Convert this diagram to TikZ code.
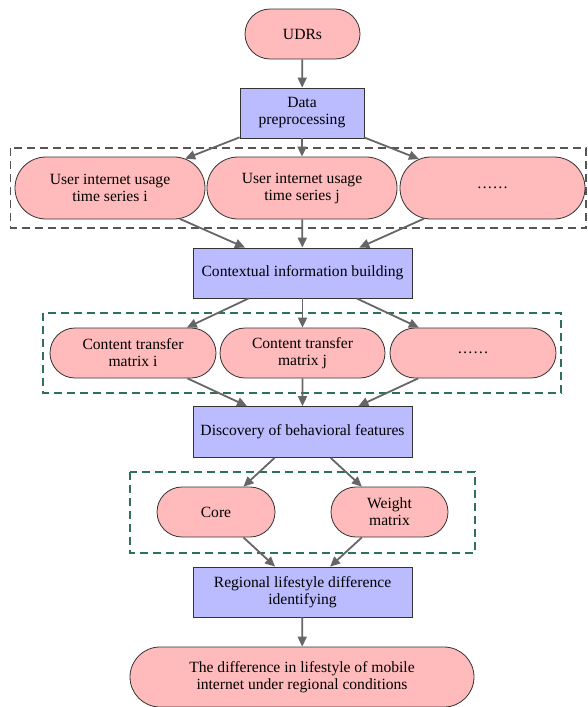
\documentclass[tikz,border=0pt]{standalone}
\usepackage{fontspec}
\setmainfont{Liberation Serif}
\usetikzlibrary{shapes.misc,arrows.meta}
\definecolor{pinkfill}{HTML}{FFBBBB}
\definecolor{bluefill}{HTML}{BBBBFF}
\definecolor{edgegray}{HTML}{666666}
\definecolor{boxgray}{HTML}{555555}
\definecolor{boxgreen}{HTML}{2F6F5F}
\definecolor{bordercol}{HTML}{333333}
\tikzset{
  pill/.style={rounded rectangle, draw=bordercol, line width=0.8pt, fill=pinkfill, inner sep=0pt, align=center, font=\fontsize{15.6}{17}\selectfont},
  proc/.style={rectangle, draw=bordercol, line width=0.8pt, fill=bluefill, inner sep=0pt, align=center, font=\fontsize{15.6}{17}\selectfont},
  flow/.style={draw=edgegray, line width=1.8pt, -{Triangle[length=10pt,width=9pt]}},
  groupbox/.style={line width=1.8pt, dash pattern=on 8pt off 5pt},
}
\begin{document}
\begin{tikzpicture}[x=1pt,y=-1pt]
\useasboundingbox (0,0) rectangle (588,707);
% group boxes
\draw[groupbox, draw=boxgray] (10.5,148) rectangle (586,228);
\draw[groupbox, draw=boxgreen] (43,313) rectangle (561,393);
\draw[groupbox, draw=boxgreen] (130,472) rectangle (475,553);
% nodes
\node[pill, minimum width=115pt, minimum height=50pt] (udr) at (302.5,34) {UDRs};
\node[proc, minimum width=124pt, minimum height=50pt] (dp) at (302,113) {Data\\preprocessing};
\node[pill, minimum width=190pt, minimum height=62pt] (si) at (110,188) {User internet usage\\time series i};
\node[pill, minimum width=190pt, minimum height=62pt] (sj) at (302,188) {User internet usage\\time series j};
\node[pill, minimum width=185pt, minimum height=62pt] (sk) at (492.5,188) {\dots\dots};
\node[proc, minimum width=219pt, minimum height=50pt] (cib) at (302.5,273) {Contextual information building};
\node[pill, minimum width=166pt, minimum height=50pt] (ci) at (133,353) {Content transfer\\matrix i};
\node[pill, minimum width=165pt, minimum height=50pt] (cj) at (302.5,353) {Content transfer\\matrix j};
\node[pill, minimum width=166pt, minimum height=50pt] (ck) at (473,353) {\dots\dots};
\node[proc, minimum width=219pt, minimum height=51pt] (dbf) at (302.5,432) {Discovery of behavioral features};
\node[pill, minimum width=118pt, minimum height=50pt] (core) at (216,512) {Core};
\node[pill, minimum width=117pt, minimum height=50pt] (wm) at (389.5,512) {Weight\\matrix};
\node[proc, minimum width=219pt, minimum height=50pt] (rld) at (302.5,592) {Regional lifestyle difference\\identifying};
\node[pill, minimum width=344pt, minimum height=60pt] (res) at (302,677) {The difference in lifestyle of mobile\\internet under regional conditions};
% connectors
\draw[flow] (udr) -- (dp);
\draw[flow] (dp) -- (si);
\draw[flow] (dp) -- (sj);
\draw[flow] (dp) -- (sk);
\draw[flow] (si) -- (cib);
\draw[flow] (sj) -- (cib);
\draw[flow] (sk) -- (cib);
\draw[flow] (cib) -- (ci);
\draw[flow] (cib) -- (cj);
\draw[flow] (cib) -- (ck);
\draw[flow] (ci) -- (dbf);
\draw[flow] (cj) -- (dbf);
\draw[flow] (ck) -- (dbf);
\draw[flow] (dbf) -- (core);
\draw[flow] (dbf) -- (wm);
\draw[flow] (core) -- (rld);
\draw[flow] (wm) -- (rld);
\draw[flow] (rld) -- (res);
\end{tikzpicture}
\end{document}
